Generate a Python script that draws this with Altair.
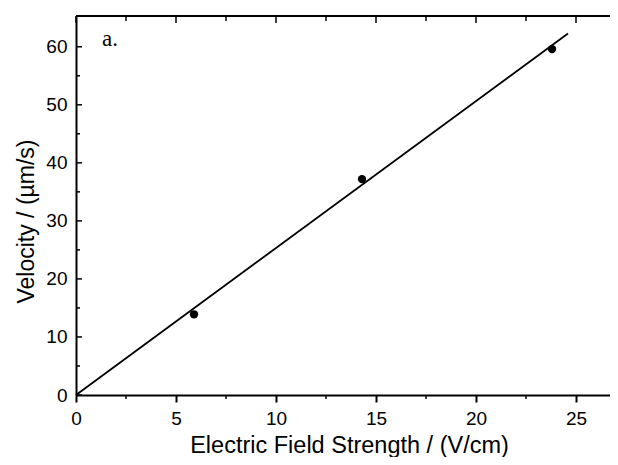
import altair as alt
import pandas as pd

# measured data
field_strength = [5.9, 14.3, 23.8]
velocity = [13.9, 37.2, 59.6]

# fitted line through origin
fit_field = [0.0, 24.6]
fit_velocity = [0.0, 62.3]

x_major = [0, 5, 10, 15, 20, 25]
x_minor = [2.5, 7.5, 12.5, 17.5, 22.5]
y_major = [0, 10, 20, 30, 40, 50, 60]
y_minor = [5, 15, 25, 35, 45, 55]

panel_label = ["a."]
panel_label_x = [1.3]
panel_label_y = [60.2]

W, H = 534, 379
x_scale = alt.Scale(domain=[0, 26.7], nice=False, zero=False)
y_scale = alt.Scale(domain=[0, 65.3], nice=False, zero=False)

FONT = "Liberation Sans"

x_axis = alt.Axis(
    values=x_major, title="Electric Field Strength / (V/cm)",
    grid=False, ticks=True, tickSize=7, tickWidth=2, tickColor="black",
    domainColor="black", domainWidth=2,
    labelFont=FONT, labelFontSize=19, labelColor="black", labelPadding=7,
    labelFlush=False, labelOverlap=False,
    titleFont=FONT, titleFontSize=23.5, titleFontWeight="normal", titleColor="black",
    titleX=273, titleY=57, titleBaseline="alphabetic", titleAnchor="middle",
)
y_axis = alt.Axis(
    values=y_major, title="Velocity / (µm/s)",
    grid=False, ticks=True, tickSize=0, domainColor="black", domainWidth=2,
    labelFont=FONT, labelFontSize=19, labelColor="black", labelPadding=9,
    labelFlush=False, labelOverlap=False,
    titleFont=FONT, titleFontSize=23, titleFontWeight="normal", titleColor="black",
    titleX=-43, titleY=205, titleBaseline="alphabetic", titleAnchor="middle",
)

pts = pd.DataFrame({"E": field_strength, "V": velocity})
fit = pd.DataFrame({"E": fit_field, "V": fit_velocity})
xmaj = pd.DataFrame({"v": x_major})
xmin = pd.DataFrame({"v": x_minor})
ymaj = pd.DataFrame({"v": y_major})
ymin = pd.DataFrame({"v": y_minor})
lab = pd.DataFrame({"t": panel_label, "x": panel_label_x, "y": panel_label_y})

X = lambda f: alt.X(f, scale=x_scale, axis=x_axis)
Y = lambda f: alt.Y(f, scale=y_scale, axis=y_axis)

line = alt.Chart(fit).mark_line(color="black", strokeWidth=1.8).encode(
    x=X("E:Q"), y=Y("V:Q"))
points = alt.Chart(pts).mark_circle(color="black", size=70, opacity=1).encode(
    x=X("E:Q"), y=Y("V:Q"))

# minor ticks on bottom (outward)
bot_minor = alt.Chart(xmin).mark_rule(color="black", strokeWidth=1.5).encode(
    x=X("v:Q"), y=alt.value(H), y2=alt.value(H + 4))
# top ticks (inward)
top_major = alt.Chart(xmaj).mark_rule(color="black", strokeWidth=1.5).encode(
    x=X("v:Q"), y=alt.value(0), y2=alt.value(7))
top_minor = alt.Chart(xmin).mark_rule(color="black", strokeWidth=1.5).encode(
    x=X("v:Q"), y=alt.value(0), y2=alt.value(5))
# left ticks (inward)
left_major = alt.Chart(ymaj).mark_rule(color="black", strokeWidth=1.5).encode(
    y=Y("v:Q"), x=alt.value(0), x2=alt.value(6))
left_minor = alt.Chart(ymin).mark_rule(color="black", strokeWidth=1.5).encode(
    y=Y("v:Q"), x=alt.value(0), x2=alt.value(4))
# top frame line
top_line = alt.Chart(xmaj).mark_rule(color="black", strokeWidth=2).encode(
    x=alt.value(0), x2=alt.value(W), y=alt.value(0))

label = alt.Chart(lab).mark_text(
    font="Liberation Serif", fontSize=23, align="left", baseline="alphabetic",
    color="black").encode(x=X("x:Q"), y=Y("y:Q"), text="t:N")

chart = alt.layer(
    line, points, bot_minor, top_major, top_minor, left_major, left_minor,
    top_line, label,
).properties(
    width=W, height=H,
    autosize=alt.AutoSizeParams(type="none"),
    padding={"left": 68, "top": 8, "right": 0, "bottom": 62},
).configure_view(stroke=None).configure(background="white")

chart.save("out.html", embed_options={"renderer": "svg", "actions": False})
